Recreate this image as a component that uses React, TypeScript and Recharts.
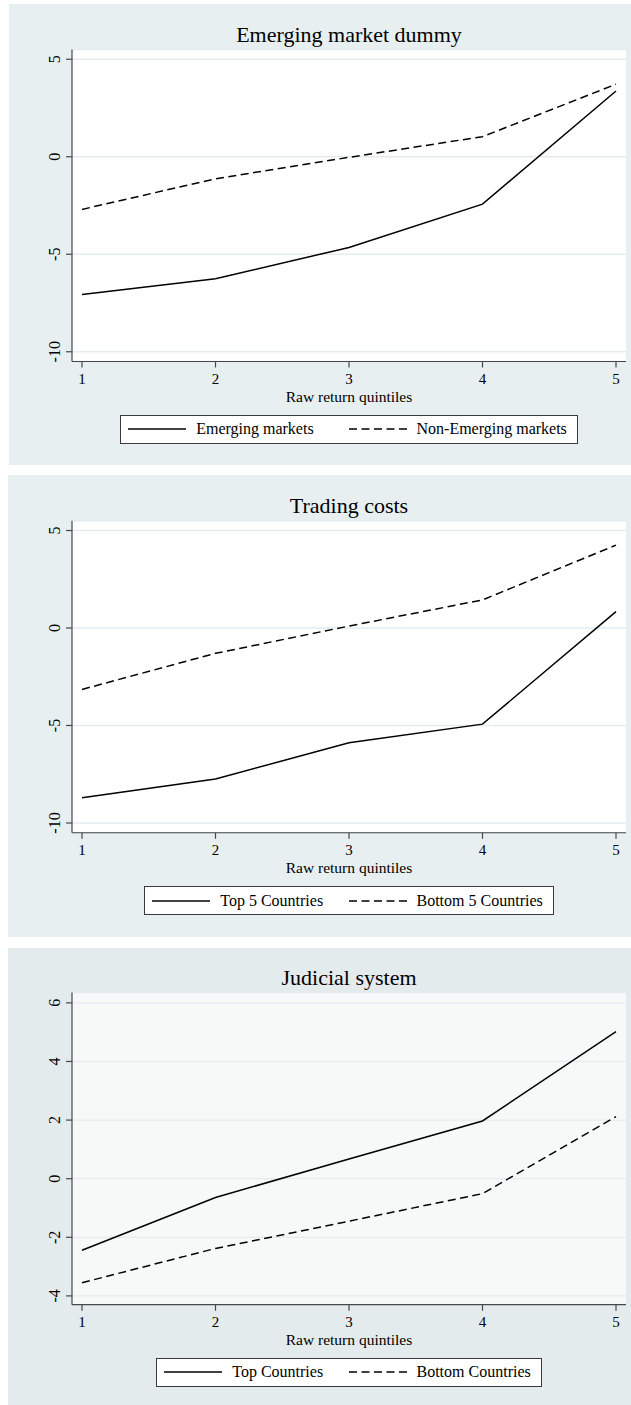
import React from 'react';
import { LineChart, Line, XAxis, YAxis, CartesianGrid, Legend } from 'recharts';

const FONT = '"Liberation Serif", "Times New Roman", Times, serif';

// ---- data ----
const quintiles = [1, 2, 3, 4, 5];
const xTicks = [1, 2, 3, 4, 5];
const xAxisTitle = 'Raw return quintiles';

const emergingTitle = 'Emerging market dummy';
const emergingNames = ['Emerging markets', 'Non-Emerging markets'];
const emergingValues = [-7.06, -6.26, -4.65, -2.43, 3.37];
const nonEmergingValues = [-2.7, -1.13, -0.03, 1.03, 3.72];
const emergingYTicks = [-10, -5, 0, 5];

const tradingTitle = 'Trading costs';
const tradingNames = ['Top 5 Countries', 'Bottom 5 Countries'];
const tradingTopValues = [-8.7, -7.74, -5.89, -4.93, 0.84];
const tradingBottomValues = [-3.15, -1.3, 0.1, 1.44, 4.25];
const tradingYTicks = [-10, -5, 0, 5];

const judicialTitle = 'Judicial system';
const judicialNames = ['Top Countries', 'Bottom Countries'];
const judicialTopValues = [-2.44, -0.64, 0.67, 1.97, 5.02];
const judicialBottomValues = [-3.55, -2.38, -1.45, -0.51, 2.12];
const judicialYTicks = [-4, -2, 0, 2, 4, 6];

const buildRows = (a: number[], b: number[]) =>
  quintiles.map((q, i) => ({ q, a: a[i], b: b[i] }));

// ---- styling ----
const AXIS = '#474747';
const GRID = '#E3ECEF';
const DASH = '8 4.5';

type PanelSpec = {
  left: number;
  top: number;
  width: number;
  height: number;
  bg: string;
  plotBg: string;
  marginTop: number;
  marginBottom: number;
  yAxisWidth: number;
  yDomain: [number, number];
  yTicks: number[];
  title: string;
  names: string[];
  rows: { q: number; a: number; b: number }[];
};

const RIGHT = 5;
const XAXIS_H = 40;

const panels: PanelSpec[] = [
  {
    left: 9, top: 4, width: 622, height: 461,
    bg: '#E8EFF1', plotBg: '#FFFFFF',
    marginTop: 45.5, marginBottom: 63.5, yAxisWidth: 63,
    yDomain: [-10.5, 5.5], yTicks: emergingYTicks,
    title: emergingTitle, names: emergingNames,
    rows: buildRows(emergingValues, nonEmergingValues),
  },
  {
    left: 8, top: 475, width: 623, height: 462,
    bg: '#E8EFF1', plotBg: '#FFFFFF',
    marginTop: 45.75, marginBottom: 64.25, yAxisWidth: 64,
    yDomain: [-10.5, 5.5], yTicks: tradingYTicks,
    title: tradingTitle, names: tradingNames,
    rows: buildRows(tradingTopValues, tradingBottomValues),
  },
  {
    left: 8, top: 948, width: 623, height: 457,
    bg: '#E4EBED', plotBg: '#F7F8F8',
    marginTop: 44.6, marginBottom: 60.3, yAxisWidth: 64,
    yDomain: [-4.3, 6.35], yTicks: judicialYTicks,
    title: judicialTitle, names: judicialNames,
    rows: buildRows(judicialTopValues, judicialBottomValues),
  },
];

const YTick = (props: any) => {
  const { x, y, payload } = props;
  return (
    <text
      x={x}
      y={y}
      transform={`rotate(-90 ${x} ${y})`}
      textAnchor="middle"
      fontSize={16}
      fontFamily={FONT}
      fill="#000"
    >
      {payload.value}
    </text>
  );
};

const LegendBox = (props: any) => {
  const items = [...(props.payload || [])].sort((m: any, n: any) =>
    String(m.dataKey).localeCompare(String(n.dataKey))
  );
  return (
    <div style={{ display: 'flex', justifyContent: 'center', width: '100%' }}>
      <div
        style={{
          display: 'inline-grid',
          gridTemplateColumns: '1fr 1fr',
          columnGap: 2,
          alignItems: 'center',
          background: '#FFFFFF',
          border: '1px solid #3a3a3a',
          boxSizing: 'border-box',
          height: 29.5,
          padding: '0 10px 0 7px',
        }}
      >
        {items.map((it: any) => {
          const dash = it.payload && it.payload.strokeDasharray;
          return (
            <div key={String(it.dataKey)} style={{ display: 'flex', alignItems: 'center' }}>
              <svg width={58} height={10} style={{ marginRight: 10, display: 'block' }}>
                <line x1={0} y1={5} x2={58} y2={5} stroke="#000" strokeWidth={1.5} strokeDasharray={dash} />
              </svg>
              <span
                style={{
                  fontFamily: FONT,
                  fontSize: 16,
                  color: '#000',
                  whiteSpace: 'nowrap',
                  lineHeight: '16px',
                }}
              >
                {it.value}
              </span>
            </div>
          );
        })}
      </div>
    </div>
  );
};

const Panel = ({ spec }: { spec: PanelSpec }) => {
  const plotWidth = spec.width - spec.yAxisWidth - RIGHT;
  const plotBottom = spec.height - spec.marginBottom - XAXIS_H;
  return (
    <div
      style={{
        position: 'absolute',
        left: spec.left,
        top: spec.top,
        width: spec.width,
        height: spec.height,
        background: spec.bg,
      }}
    >
      <LineChart
        width={spec.width}
        height={spec.height}
        data={spec.rows}
        margin={{ top: spec.marginTop, right: RIGHT, left: 0, bottom: spec.marginBottom }}
      >
        <CartesianGrid
          vertical={false}
          stroke={GRID}
          strokeWidth={1.3}
          fill={spec.plotBg}
          fillOpacity={1}
        />
        <XAxis
          dataKey="q"
          type="number"
          domain={[1, 5]}
          ticks={xTicks}
          interval={0}
          padding={{ left: 10, right: 10 }}
          height={XAXIS_H}
          tickSize={6}
          tickMargin={6}
          axisLine={{ stroke: AXIS, strokeWidth: 1.2 }}
          tickLine={{ stroke: AXIS, strokeWidth: 1.2 }}
          tick={{ fill: '#000', fontSize: 15, fontFamily: FONT }}
          label={{
            value: xAxisTitle,
            position: 'insideBottom',
            offset: 0,
            fill: '#000',
            fontSize: 15.5,
            fontFamily: FONT,
          }}
        />
        <YAxis
          type="number"
          domain={spec.yDomain}
          ticks={spec.yTicks}
          interval={0}
          allowDataOverflow
          width={spec.yAxisWidth}
          tickSize={6}
          tickMargin={6}
          axisLine={{ stroke: AXIS, strokeWidth: 1.2 }}
          tickLine={{ stroke: AXIS, strokeWidth: 1.2 }}
          tick={<YTick />}
        />
        <Legend
          layout="horizontal"
          verticalAlign="middle"
          align="center"
          content={<LegendBox />}
          wrapperStyle={{
            position: 'absolute',
            left: spec.yAxisWidth,
            top: plotBottom + 53,
            width: plotWidth,
            height: 30,
          }}
        />
        <Line
          type="linear"
          dataKey="a"
          name={spec.names[0]}
          stroke="#000"
          strokeWidth={1.5}
          dot={false}
          activeDot={false}
          isAnimationActive={false}
        />
        <Line
          type="linear"
          dataKey="b"
          name={spec.names[1]}
          stroke="#000"
          strokeWidth={1.5}
          strokeDasharray={DASH}
          dot={false}
          activeDot={false}
          isAnimationActive={false}
        />
        <text
          x={spec.yAxisWidth + plotWidth / 2}
          y={spec.marginTop - 7.5}
          textAnchor="middle"
          fontSize={22}
          fontFamily={FONT}
          fill="#000"
        >
          {spec.title}
        </text>
      </LineChart>
    </div>
  );
}

export default function App() {
  return (
    <div
      style={{
        position: 'absolute',
        left: 0,
        top: 0,
        width: 631,
        height: 1405,
        background: '#FFFFFF',
        fontFamily: FONT,
        overflow: 'hidden',
      }}
    >
      {panels.map((p) => (
        <Panel key={p.title} spec={p} />
      ))}
    </div>
  );
}
